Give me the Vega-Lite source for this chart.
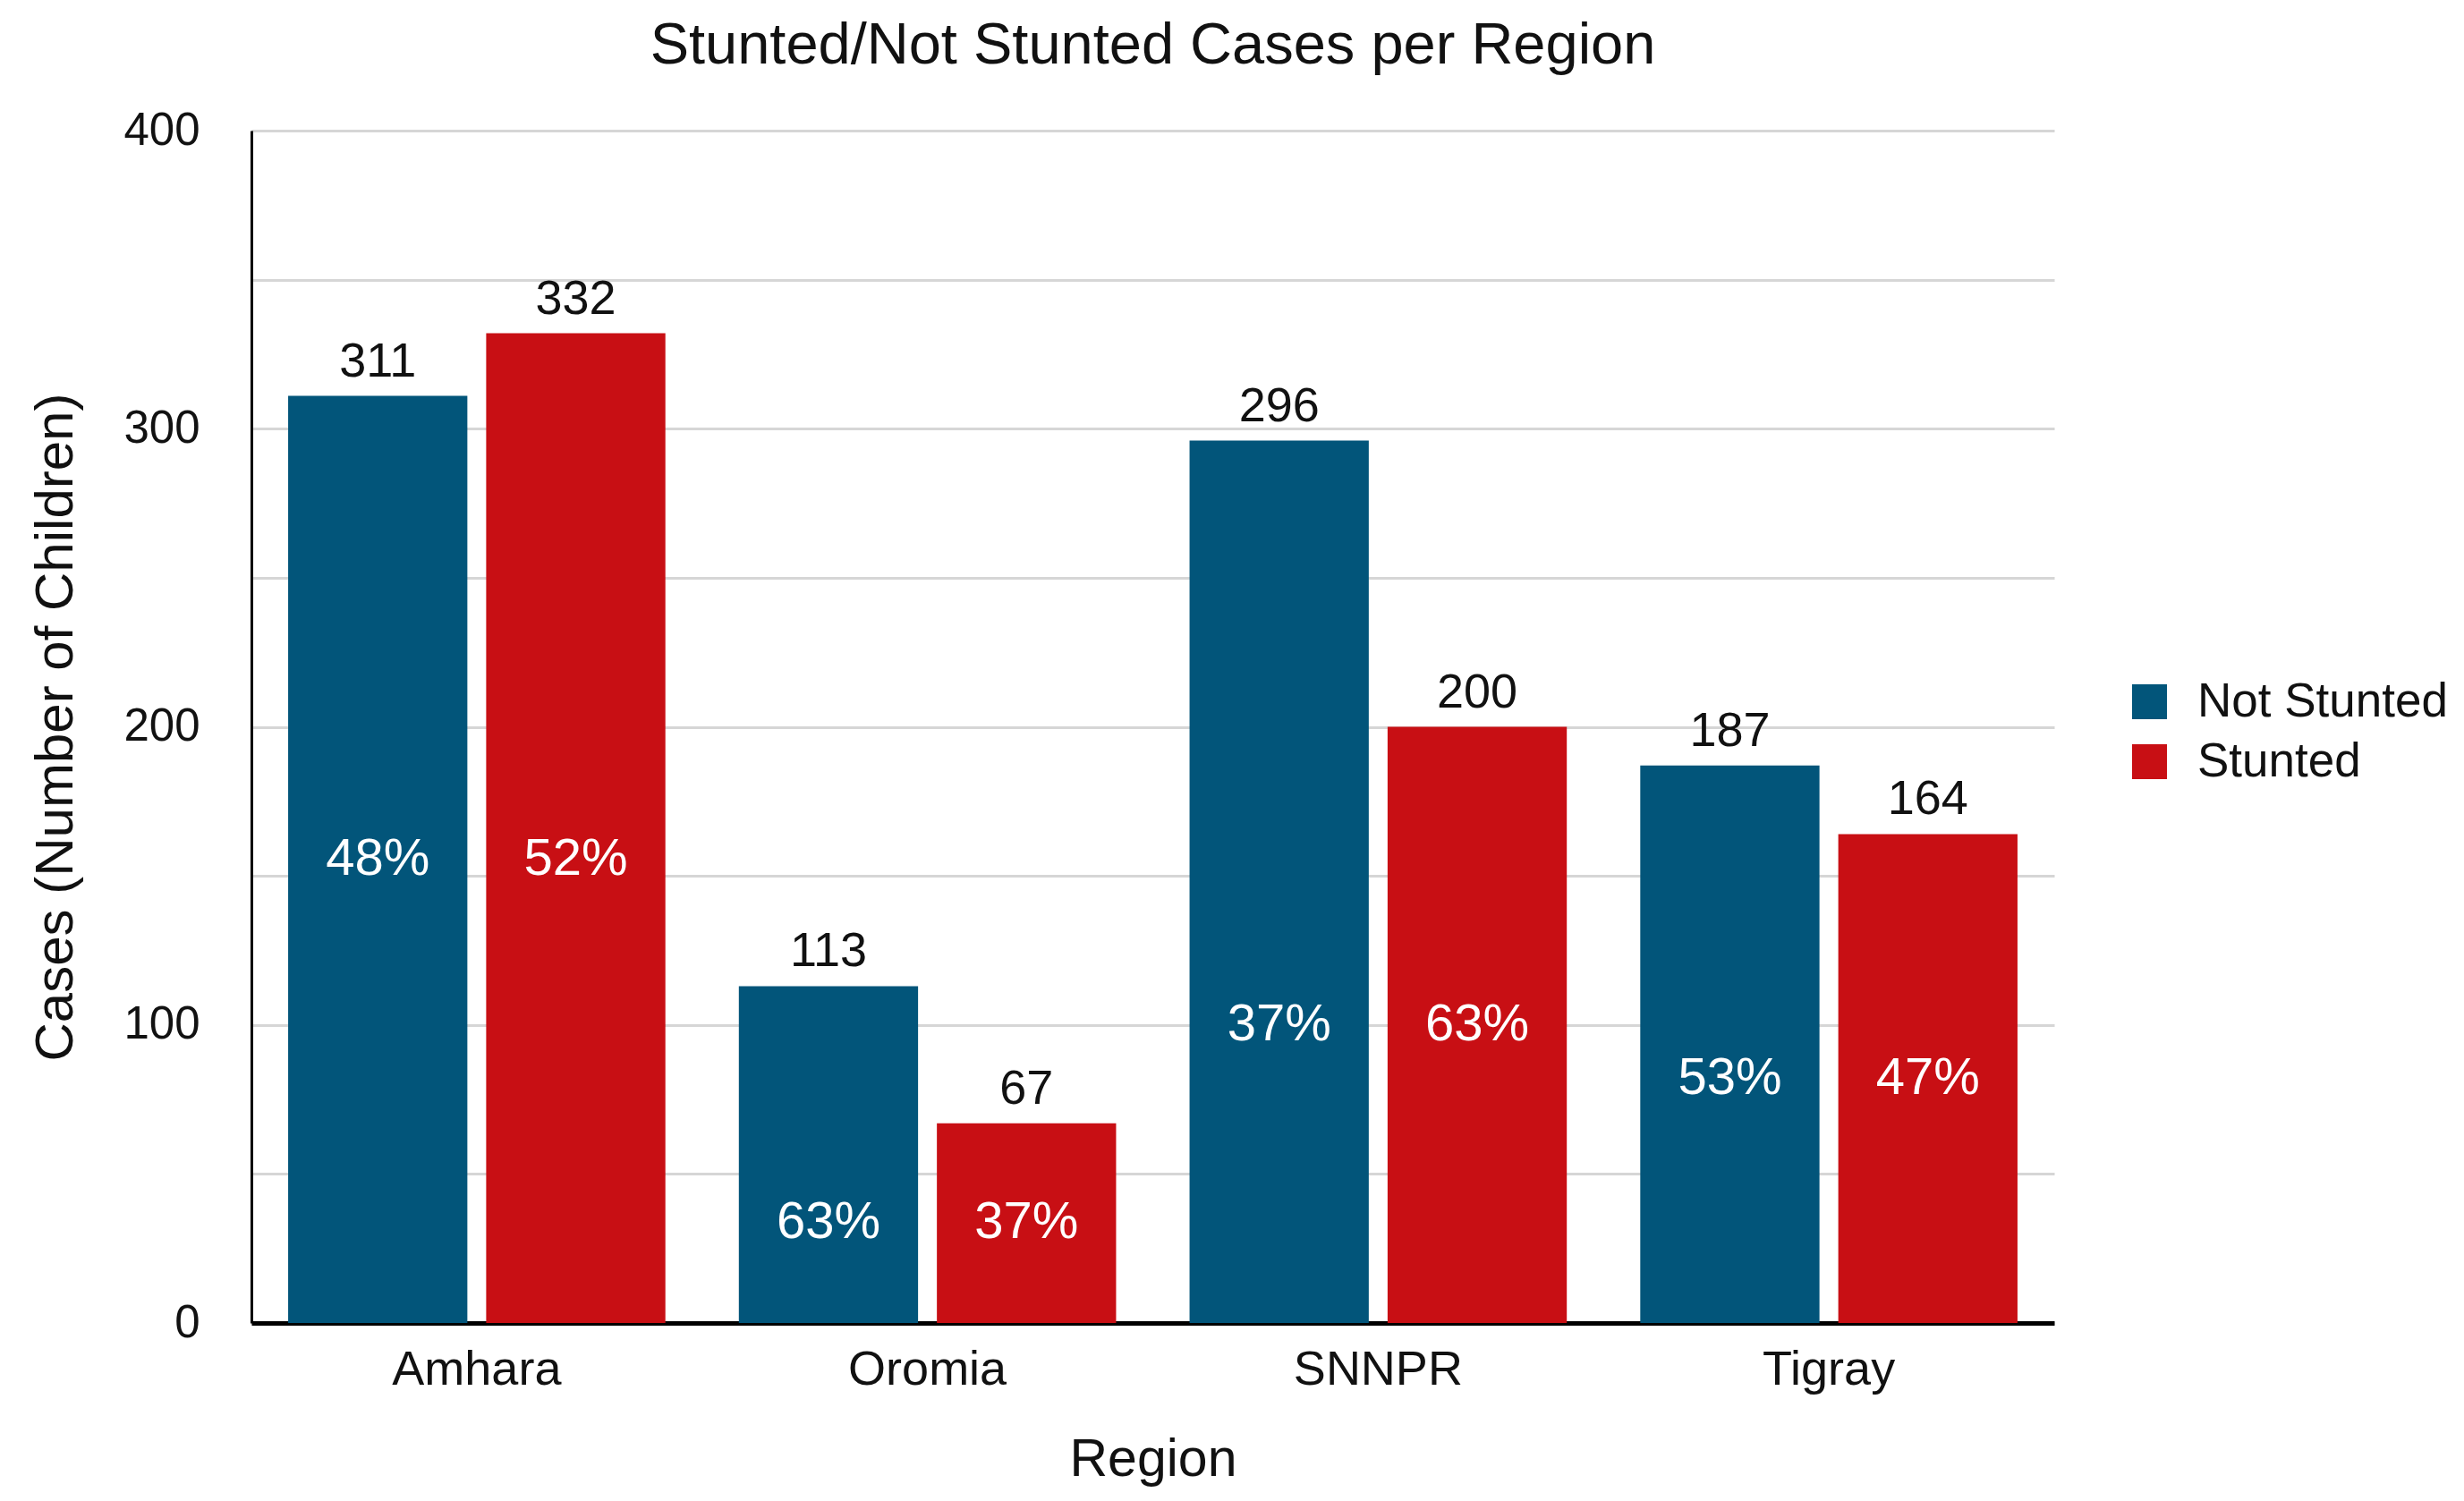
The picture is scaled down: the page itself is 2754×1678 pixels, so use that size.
{
  "$schema": "https://vega.github.io/schema/vega-lite/v6.json",
  "autosize": "none",
  "width": 2015,
  "height": 1333,
  "padding": {"left": 281, "top": 146, "right": 458, "bottom": 199},
  "background": "white",
  "config": {
    "font": "Liberation Sans",
    "view": {"stroke": null},
    "axis": {"labelColor": "#111", "titleColor": "#111", "titleFontWeight": "normal", "labelLimit": 0},
    "legend": {"labelLimit": 0}
  },
  "title": {
    "text": "Stunted/Not Stunted Cases per Region",
    "fontSize": 65,
    "fontWeight": "normal",
    "color": "#111",
    "anchor": "middle",
    "offset": 35
  },
  "data": {
    "values": [
      {"Region": "Amhara", "Status": "Not Stunted", "Cases": 311, "Pct": "48%"},
      {"Region": "Amhara", "Status": "Stunted", "Cases": 332, "Pct": "52%"},
      {"Region": "Oromia", "Status": "Not Stunted", "Cases": 113, "Pct": "63%"},
      {"Region": "Oromia", "Status": "Stunted", "Cases": 67, "Pct": "37%"},
      {"Region": "SNNPR", "Status": "Not Stunted", "Cases": 296, "Pct": "37%"},
      {"Region": "SNNPR", "Status": "Stunted", "Cases": 200, "Pct": "63%"},
      {"Region": "Tigray", "Status": "Not Stunted", "Cases": 187, "Pct": "53%"},
      {"Region": "Tigray", "Status": "Stunted", "Cases": 164, "Pct": "47%"}
    ]
  },
  "encoding": {
    "x": {
      "field": "Region",
      "type": "nominal",
      "scale": {"paddingInner": 0.163, "paddingOuter": 0.0815},
      "axis": {
        "title": "Region",
        "titleFontSize": 59,
        "titlePadding": 44,
        "labelFontSize": 54,
        "labelPadding": 25,
        "labelAngle": 0,
        "ticks": false,
        "domainColor": "#000",
        "domainWidth": 5,
        "grid": false
      }
    },
    "xOffset": {
      "field": "Status",
      "type": "nominal",
      "scale": {"paddingInner": 0.095, "paddingOuter": 0}
    }
  },
  "layer": [
    {
      "mark": {"type": "bar"},
      "encoding": {
        "y": {
          "field": "Cases",
          "type": "quantitative",
          "scale": {"domain": [0, 400], "nice": false},
          "axis": {
            "title": "Cases (Number of Children)",
            "titleFontSize": 60,
            "titlePadding": 44,
            "labelFontSize": 51,
            "labelPadding": 58,
            "ticks": false,
            "values": [0, 50, 100, 150, 200, 250, 300, 350, 400],
            "labelExpr": "datum.value % 100 === 0 ? datum.label : ''",
            "domainColor": "#000",
            "domainWidth": 3,
            "gridColor": "#d6d6d6",
            "gridWidth": 3
          }
        },
        "color": {
          "field": "Status",
          "type": "nominal",
          "scale": {"domain": ["Not Stunted", "Stunted"], "range": ["#02557a", "#c80f14"]},
          "legend": {
            "title": null,
            "orient": "none",
            "legendX": 2095,
            "legendY": 612,
            "symbolType": "square",
            "symbolSize": 1521,
            "symbolStrokeWidth": 0,
            "labelFontSize": 53,
            "labelColor": "#111",
            "labelOffset": 27,
            "rowPadding": 13
          }
        }
      }
    },
    {
      "mark": {"type": "text", "baseline": "alphabetic", "dy": -22, "fontSize": 54, "color": "#111"},
      "encoding": {
        "y": {"field": "Cases", "type": "quantitative"},
        "text": {"field": "Cases", "type": "quantitative"}
      }
    },
    {
      "transform": [
        {"joinaggregate": [{"op": "min", "field": "Cases", "as": "minCases"}], "groupby": ["Region"]},
        {"calculate": "datum.minCases / 2", "as": "pctAt"}
      ],
      "mark": {"type": "text", "baseline": "middle", "fontSize": 58, "color": "white"},
      "encoding": {
        "y": {"field": "pctAt", "type": "quantitative"},
        "text": {"field": "Pct", "type": "nominal"}
      }
    }
  ]
}
